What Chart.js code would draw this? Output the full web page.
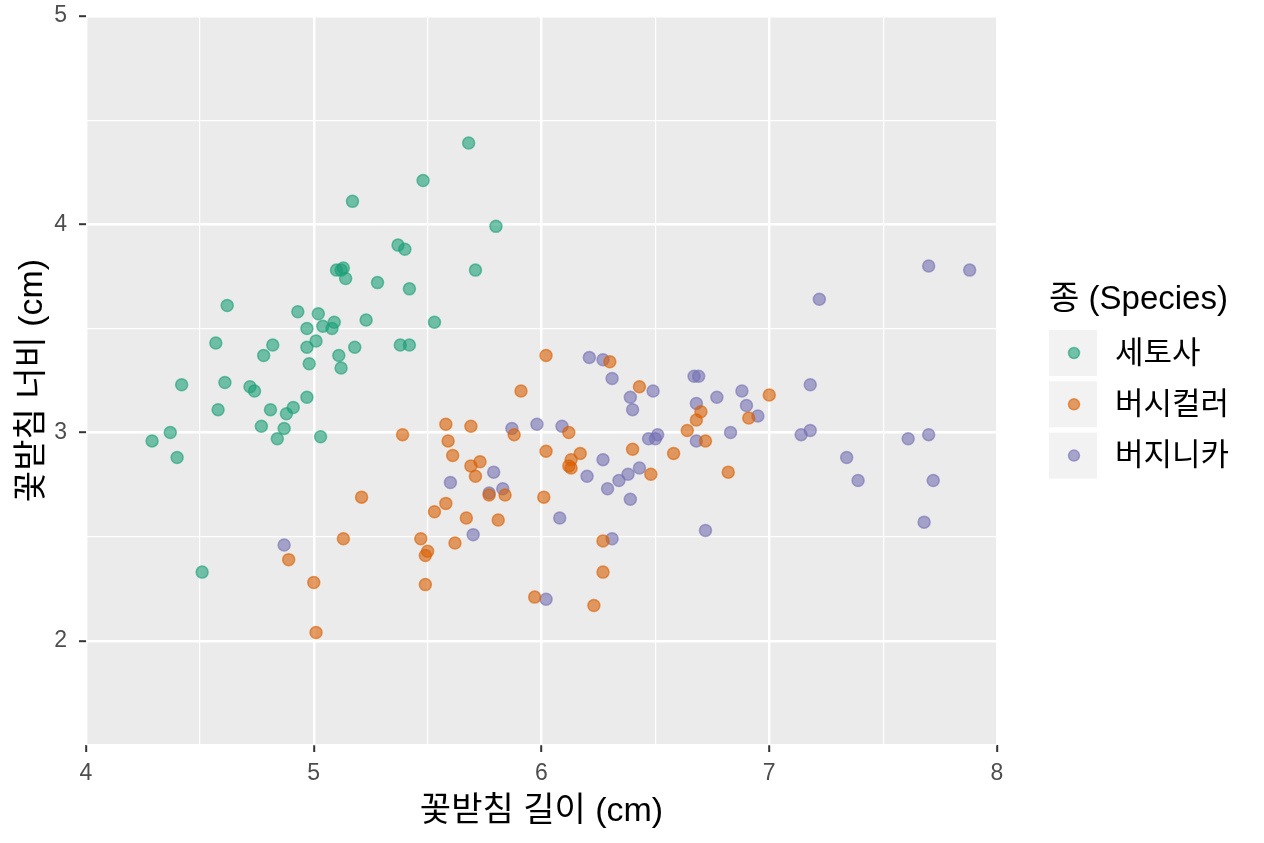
<!DOCTYPE html>
<html lang="ko">
<head>
<meta charset="utf-8">
<title>꽃받침 길이와 너비</title>
<script src="https://cdn.jsdelivr.net/npm/chart.js@4/dist/chart.umd.min.js"></script>
<style>
  html, body { margin: 0; padding: 0; background: #ffffff; }
  #chart { display: block; }
</style>
</head>
<body>
<canvas id="chart" width="1264" height="843"></canvas>
<script>
// 종 이름과 색
const speciesNames = ['세토사', '버시컬러', '버지니카'];
const speciesColors = ['27,158,119', '217,95,2', '117,112,179'];

// 세토사
const setosaX = [5.68, 5.48, 5.17, 5.80, 5.37, 5.40, 5.71, 5.10, 5.13, 5.12,
                 5.14, 5.28, 5.42, 4.62, 4.93, 5.02, 4.97, 5.04, 5.09, 5.08,
                 5.23, 5.53, 4.57, 4.82, 4.78, 4.97, 5.01, 5.11, 5.18, 5.38,
                 5.42, 4.98, 5.12, 4.42, 4.61, 4.72, 4.74, 4.58, 4.81, 4.88,
                 4.91, 4.97, 4.77, 4.87, 4.84, 5.03, 4.37, 4.29, 4.40, 4.51];
const setosaY = [4.39, 4.21, 4.11, 3.99, 3.90, 3.88, 3.78, 3.78, 3.79, 3.78,
                 3.74, 3.72, 3.69, 3.61, 3.58, 3.57, 3.50, 3.51, 3.53, 3.50,
                 3.54, 3.53, 3.43, 3.42, 3.37, 3.41, 3.44, 3.37, 3.41, 3.42,
                 3.42, 3.33, 3.31, 3.23, 3.24, 3.22, 3.20, 3.11, 3.11, 3.09,
                 3.12, 3.17, 3.03, 3.02, 2.97, 2.98, 3.00, 2.96, 2.88, 2.33];

// 버시컬러
const versicolorX = [6.02, 5.91, 6.30, 6.43, 5.58, 5.69, 5.39, 5.59, 5.88, 6.12,
                     5.61, 5.73, 5.69, 5.71, 6.02, 6.17, 6.13, 6.13, 6.12, 6.40,
                     6.48, 6.58, 6.64, 6.68, 6.70, 6.72, 5.77, 5.84, 6.01, 5.58,
                     5.53, 5.67, 5.81, 5.47, 5.62, 5.50, 5.49, 5.49, 6.27, 6.27,
                     5.97, 6.23, 5.21, 5.13, 4.89, 5.00, 5.01, 7.00, 6.91, 6.82];
const versicolorY = [3.37, 3.20, 3.34, 3.22, 3.04, 3.03, 2.99, 2.96, 2.99, 3.00,
                     2.89, 2.86, 2.84, 2.79, 2.91, 2.90, 2.87, 2.83, 2.84, 2.92,
                     2.80, 2.90, 3.01, 3.06, 3.10, 2.96, 2.70, 2.70, 2.69, 2.66,
                     2.62, 2.59, 2.58, 2.49, 2.47, 2.43, 2.41, 2.27, 2.48, 2.33,
                     2.21, 2.17, 2.69, 2.49, 2.39, 2.28, 2.04, 3.18, 3.07, 2.81];

// 버지니카
const virginicaX = [6.21, 6.27, 6.31, 6.39, 6.49, 6.40, 6.67, 6.69, 6.77, 6.68,
                    6.68, 5.87, 5.98, 6.09, 6.47, 6.51, 6.50, 6.27, 6.43, 6.38,
                    6.34, 6.20, 6.29, 6.39, 5.79, 5.60, 5.77, 5.83, 6.08, 5.70,
                    6.72, 6.31, 6.02, 4.87, 6.88, 6.90, 6.95, 6.83, 7.18, 7.14,
                    7.18, 7.22, 7.70, 7.88, 7.34, 7.39, 7.61, 7.70, 7.72, 7.68];
const virginicaY = [3.36, 3.35, 3.26, 3.17, 3.20, 3.11, 3.27, 3.27, 3.17, 3.14,
                    2.96, 3.02, 3.04, 3.03, 2.97, 2.99, 2.97, 2.87, 2.83, 2.80,
                    2.77, 2.79, 2.73, 2.68, 2.81, 2.76, 2.71, 2.73, 2.59, 2.51,
                    2.53, 2.49, 2.20, 2.46, 3.20, 3.13, 3.08, 3.00, 3.23, 2.99,
                    3.01, 3.64, 3.80, 3.78, 2.88, 2.77, 2.97, 2.99, 2.77, 2.57];

// 축
const xLimits = [4, 8];
const yLimits = [1.5, 5];
const xTitle = '꽃받침 길이 (cm)';
const yTitle = '꽃받침 너비 (cm)';
const legendTitle = '종 (Species)';

const baseFont = '"Liberation Sans", Arial, "Noto Sans CJK KR", sans-serif';

function toPoints(xs, ys) {
    return xs.map((x, i) => ({ x: x, y: ys[i] }));
}

const seriesX = [setosaX, versicolorX, virginicaX];
const seriesY = [setosaY, versicolorY, virginicaY];

const datasets = speciesNames.map((name, i) => ({
    label: name,
    data: toPoints(seriesX[i], seriesY[i]),
    backgroundColor: `rgba(${speciesColors[i]},0.6)`,
    borderColor: `rgba(${speciesColors[i]},0.6)`,
    borderWidth: 1.5,
    pointRadius: 6,
    pointHoverRadius: 6
}));

// 정수는 주 격자, .5는 보조 격자
const isMajor = (v) => Math.abs(v - Math.round(v)) < 1e-6;

const gridOptions = {
    color: '#ffffff',
    lineWidth: (ctx) => isMajor(ctx.tick.value) ? 2.4 : 1.2,
    tickColor: (ctx) => isMajor(ctx.tick.value) ? '#333333' : 'rgba(0,0,0,0)',
    tickWidth: 2,
    tickLength: 7,
    drawTicks: true
};

// 패널 배경
const panelBackground = {
    id: 'panelBackground',
    beforeDraw(chart) {
        const { ctx, chartArea } = chart;
        ctx.save();
        ctx.fillStyle = '#EBEBEB';
        ctx.fillRect(chartArea.left, chartArea.top,
                     chartArea.right - chartArea.left, chartArea.bottom - chartArea.top);
        ctx.restore();
    }
};

// ggplot 식 범례
const ggLegend = {
    id: 'ggLegend',
    afterDraw(chart) {
        const ctx = chart.ctx;
        const left = 1049;
        const keySize = 48;
        const firstTop = 330;
        const step = 51.3;
        ctx.save();
        ctx.fillStyle = '#000000';
        ctx.font = `33px ${baseFont}`;
        ctx.textAlign = 'left';
        ctx.textBaseline = 'middle';
        ctx.fillText(legendTitle, left, 300);
        chart.data.datasets.forEach((ds, i) => {
            const top = firstTop + i * step;
            ctx.fillStyle = '#F2F2F2';
            ctx.fillRect(left, top, keySize, keySize - 2);
            ctx.beginPath();
            ctx.arc(left + keySize / 2 + 1, top + keySize / 2 - 1, 5.5, 0, Math.PI * 2);
            ctx.fillStyle = ds.backgroundColor;
            ctx.fill();
            ctx.lineWidth = 1.5;
            ctx.strokeStyle = ds.borderColor;
            ctx.stroke();
            ctx.fillStyle = '#000000';
            ctx.font = `31px ${baseFont}`;
            ctx.fillText(ds.label, 1115, top + keySize / 2);
        });
        ctx.restore();
    }
};

const ctx = document.getElementById('chart').getContext('2d');

new Chart(ctx, {
    type: 'scatter',
    data: { datasets: datasets },
    plugins: [panelBackground, ggLegend],
    options: {
        responsive: false,
        animation: false,
        devicePixelRatio: 1,
        layout: { padding: { top: 16, right: 267, left: 0, bottom: 0 } },
        plugins: {
            legend: { display: false },
            tooltip: { enabled: false }
        },
        scales: {
            x: {
                type: 'linear',
                position: 'bottom',
                min: xLimits[0],
                max: xLimits[1],
                afterFit: (scale) => {
                    scale.height = 98;
                    scale.paddingLeft = 0;
                    scale.paddingRight = 0;
                },
                border: { display: false },
                grid: gridOptions,
                ticks: {
                    stepSize: 0.5,
                    autoSkip: false,
                    maxRotation: 0,
                    padding: 8,
                    color: '#4D4D4D',
                    font: { family: baseFont, size: 23 },
                    callback: (v) => isMajor(v) ? String(Math.round(v)) : ''
                },
                title: {
                    display: true,
                    text: xTitle,
                    color: '#000000',
                    font: { family: baseFont, size: 34 },
                    padding: { top: 0, bottom: 11 }
                }
            },
            y: {
                type: 'linear',
                position: 'left',
                min: yLimits[0],
                max: yLimits[1],
                afterFit: (scale) => {
                    scale.width = 86;
                    scale.paddingTop = 0;
                    scale.paddingBottom = 0;
                },
                border: { display: false },
                grid: gridOptions,
                ticks: {
                    stepSize: 0.5,
                    autoSkip: false,
                    padding: 12,
                    color: '#4D4D4D',
                    font: { family: baseFont, size: 23 },
                    callback: (v) => isMajor(v) ? String(Math.round(v)) : ''
                },
                title: {
                    display: true,
                    text: yTitle,
                    color: '#000000',
                    font: { family: baseFont, size: 34 },
                    padding: { top: 12, bottom: 0 }
                }
            }
        }
    }
});
</script>
</body>
</html>
